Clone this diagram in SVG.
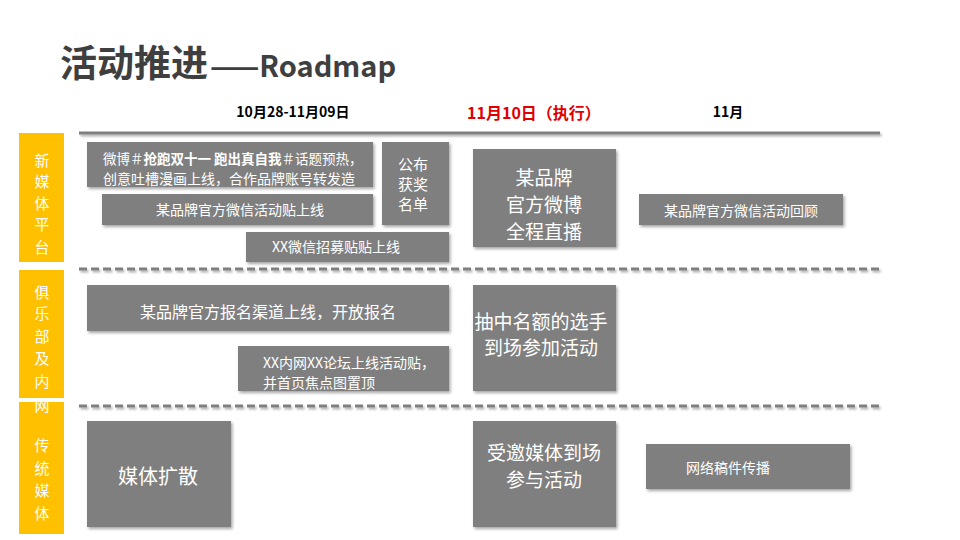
<svg xmlns="http://www.w3.org/2000/svg" width="960" height="540" viewBox="0 0 960 540">
<style>
text{font-family:"Noto Sans CJK SC","Noto Sans",sans-serif}
.box{fill:#7f7f7f;filter:url(#sh)}
.bar{fill:#ffc000}
.w{fill:#ffffff}
.c{text-anchor:middle}
.lane{fill:#ffffff;font-size:15px;text-anchor:middle}
.hdr{font-weight:bold;font-size:14px;fill:#000000;text-anchor:middle}
.dash{stroke:#7f7f7f;stroke-width:3;stroke-dasharray:8 4;fill:none;filter:url(#shl)}
</style>
<defs>
<filter id="sh" x="-10%" y="-10%" width="130%" height="150%">
<feDropShadow dx="1.5" dy="2" stdDeviation="1.5" flood-color="#000" flood-opacity="0.35"/>
</filter>
<filter id="shl" filterUnits="userSpaceOnUse" x="60" y="120" width="840" height="300">
<feDropShadow dx="1.5" dy="2" stdDeviation="1.2" flood-color="#000" flood-opacity="0.3"/>
</filter>
</defs>
<rect width="960" height="540" fill="#ffffff"/>
<g id="title">
<text x="60" y="77" font-size="37" font-weight="bold" fill="#3f3f3f">活动推进<tspan font-size="29" dx="2">——Roadmap</tspan></text>
</g>
<g id="headers">
<text class="hdr" x="293" y="117">10月28-11月09日</text>
<text x="534" y="119" font-size="16" font-weight="bold" fill="#e00000" text-anchor="middle">11月10日（执行）</text>
<text class="hdr" x="728" y="117">11月</text>
</g>
<g id="connectors">
<line x1="79" y1="133" x2="880" y2="133" stroke="#7f7f7f" stroke-width="3" filter="url(#shl)"/>
<line class="dash" x1="79" y1="269" x2="880" y2="269"/>
<line class="dash" x1="79" y1="406" x2="880" y2="406"/>
</g>
<g id="lane1">
<rect class="bar" x="19" y="133" width="45" height="129"/>
<text class="lane" x="42" y="166">新</text>
<text class="lane" x="42" y="187">媒</text>
<text class="lane" x="42" y="209">体</text>
<text class="lane" x="42" y="230">平</text>
<text class="lane" x="42" y="253">台</text>
</g>
<g id="lane2">
<rect class="bar" x="19" y="270" width="45" height="128"/>
<text class="lane" x="42" y="298">俱</text>
<text class="lane" x="42" y="319">乐</text>
<text class="lane" x="42" y="342">部</text>
<text class="lane" x="42" y="364">及</text>
<text class="lane" x="42" y="387">内</text>
</g>
<g id="lane3">
<rect class="bar" x="19" y="402" width="45" height="132"/>
<text class="lane" x="42" y="411">网</text>
<text class="lane" x="42" y="451">传</text>
<text class="lane" x="42" y="474">统</text>
<text class="lane" x="42" y="496">媒</text>
<text class="lane" x="42" y="519">体</text>
</g>
<g id="n1">
<rect class="box" x="87" y="142" width="286" height="45"/>
<text class="w" x="103" y="164" font-size="13.5">微博＃<tspan font-weight="bold">抢跑双十一 跑出真自我</tspan>＃话题预热，</text>
<text class="w" x="103" y="183.5" font-size="14">创意吐槽漫画上线，合作品牌账号转发造</text>
</g>
<g id="n2">
<rect class="box" x="102" y="194" width="271" height="31"/>
<text class="w c" x="240" y="215" font-size="14">某品牌官方微信活动贴上线</text>
</g>
<g id="n3">
<rect class="box" x="382" y="142" width="67" height="83"/>
<text class="w c" x="413" y="170" font-size="15">公布</text>
<text class="w c" x="413" y="190" font-size="15">获奖</text>
<text class="w c" x="413" y="210" font-size="15">名单</text>
</g>
<g id="n4">
<rect class="box" x="246" y="232" width="203" height="30"/>
<text class="w c" x="336" y="252" font-size="14">XX微信招募贴贴上线</text>
</g>
<g id="n5">
<rect class="box" x="473" y="149" width="143" height="98"/>
<text class="w c" x="544" y="185" font-size="19">某品牌</text>
<text class="w c" x="544" y="212" font-size="19">官方微博</text>
<text class="w c" x="544" y="239" font-size="19">全程直播</text>
</g>
<g id="n6">
<rect class="box" x="639" y="194" width="204" height="31"/>
<text class="w c" x="741" y="216" font-size="14">某品牌官方微信活动回顾</text>
</g>
<g id="n7">
<rect class="box" x="87" y="285" width="362" height="46"/>
<text class="w c" x="268" y="318" font-size="16">某品牌官方报名渠道上线，开放报名</text>
</g>
<g id="n8">
<rect class="box" x="238" y="346" width="211" height="45"/>
<text class="w" x="263" y="368" font-size="14">XX内网XX论坛上线活动贴，</text>
<text class="w" x="263" y="388" font-size="14">并首页焦点图置顶</text>
</g>
<g id="n9">
<rect class="box" x="473" y="285" width="143" height="106"/>
<text class="w c" x="541" y="329" font-size="19">抽中名额的选手</text>
<text class="w c" x="541" y="355" font-size="19">到场参加活动</text>
</g>
<g id="n10">
<rect class="box" x="87" y="421" width="144" height="106"/>
<text class="w c" x="158" y="484" font-size="20">媒体扩散</text>
</g>
<g id="n11">
<rect class="box" x="473" y="421" width="143" height="106"/>
<text class="w c" x="544" y="460" font-size="19">受邀媒体到场</text>
<text class="w c" x="544" y="487" font-size="19">参与活动</text>
</g>
<g id="n12">
<rect class="box" x="646" y="444" width="204" height="45"/>
<text class="w c" x="728" y="473" font-size="14">网络稿件传播</text>
</g>
</svg>
